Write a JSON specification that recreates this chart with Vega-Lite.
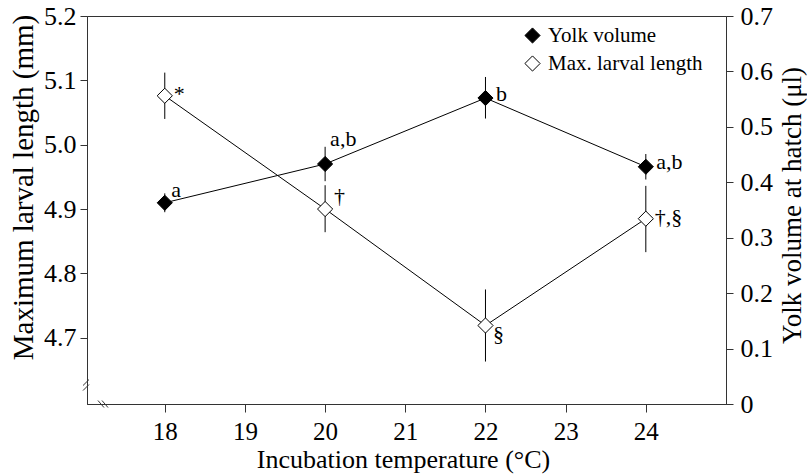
{
  "$schema": "https://vega.github.io/schema/vega-lite/v6.json",
  "width": 639,
  "height": 388,
  "autosize": {"type": "none"},
  "padding": {"left": 87, "top": 16, "right": 81, "bottom": 71},
  "background": "white",
  "config": {
    "font": "Liberation Serif",
    "view": {"stroke": "#333", "strokeWidth": 1},
    "axis": {
      "grid": false,
      "domainColor": "#333",
      "tickColor": "#333",
      "labelColor": "black",
      "titleColor": "black",
      "labelFont": "Liberation Serif",
      "titleFont": "Liberation Serif",
      "titleFontWeight": "normal",
      "labelFontSize": 25,
      "titleFontSize": 25
    },
    "legend": {
      "labelFont": "Liberation Serif",
      "labelFontSize": 21,
      "labelColor": "black"
    },
    "text": {"font": "Liberation Serif", "fontSize": 22, "color": "black", "align": "left", "baseline": "alphabetic"}
  },
  "datasets": {
    "length": [
      {"temp": 18, "series": "Max. larval length", "value": 5.076, "lo": 5.040, "hi": 5.112, "note": "*"},
      {"temp": 20, "series": "Max. larval length", "value": 4.900, "lo": 4.864, "hi": 4.937, "note": "†"},
      {"temp": 22, "series": "Max. larval length", "value": 4.719, "lo": 4.663, "hi": 4.775, "note": "§"},
      {"temp": 24, "series": "Max. larval length", "value": 4.885, "lo": 4.833, "hi": 4.936, "note": "†,§"}
    ],
    "yolk": [
      {"temp": 18, "series": "Yolk volume", "value": 0.363, "lo": 0.346, "hi": 0.380, "note": "a"},
      {"temp": 20, "series": "Yolk volume", "value": 0.433, "lo": 0.402, "hi": 0.464, "note": "a,b"},
      {"temp": 22, "series": "Yolk volume", "value": 0.552, "lo": 0.515, "hi": 0.590, "note": "b"},
      {"temp": 24, "series": "Yolk volume", "value": 0.428, "lo": 0.405, "hi": 0.451, "note": "a,b"}
    ],
    "breaks": [
      {"x": 16.98, "x2": 17.055, "y": 4.6257, "y2": 4.635},
      {"x": 16.98, "x2": 17.055, "y": 4.6179, "y2": 4.6273},
      {"x": 17.167, "x2": 17.242, "y": 4.6024, "y2": 4.5915},
      {"x": 17.217, "x2": 17.292, "y": 4.6024, "y2": 4.5915}
    ]
  },
  "layer": [
    {
      "data": {"name": "length"},
      "encoding": {
        "x": {
          "field": "temp",
          "type": "quantitative",
          "scale": {"domain": [17.03, 25], "nice": false, "zero": false},
          "axis": {
            "title": "Incubation temperature (°C)",
            "values": [18, 19, 20, 21, 22, 23, 24],
            "tickSize": 8,
            "labelPadding": 7,
            "titleFontSize": 26,
            "titleX": 316,
            "titleY": 63,
            "titleBaseline": "alphabetic"
          }
        },
        "y": {
          "field": "value",
          "type": "quantitative",
          "scale": {"domain": [4.597, 5.2], "nice": false, "zero": false},
          "axis": {
            "title": "Maximum larval length (mm)",
            "values": [4.7, 4.8, 4.9, 5.0, 5.1, 5.2],
            "format": ".1f",
            "tickSize": 7,
            "labelPadding": 4,
            "labelFontSize": 26,
            "titleFontSize": 29,
            "titleAngle": -90,
            "titleX": -64,
            "titleY": 171,
            "titleBaseline": "middle",
            "titleAlign": "center"
          }
        }
      },
      "layer": [
        {"mark": {"type": "line", "color": "black", "strokeWidth": 1}},
        {
          "mark": {"type": "rule", "color": "black", "strokeWidth": 1},
          "encoding": {"y": {"field": "lo", "type": "quantitative"}, "y2": {"field": "hi"}}
        },
        {
          "mark": {"type": "point", "shape": "diamond", "filled": true, "size": 230, "stroke": "black", "strokeWidth": 1, "opacity": 1},
          "encoding": {
            "fill": {
              "field": "series",
              "type": "nominal",
              "scale": {"domain": ["Yolk volume", "Max. larval length"], "range": ["black", "white"]},
              "legend": {
                "title": null,
                "orient": "none",
                "legendX": 435,
                "legendY": 9,
                "padding": 0,
                "symbolType": "diamond",
                "symbolSize": 230,
                "symbolStrokeColor": "black",
                "symbolStrokeWidth": 1,
                "rowPadding": 6,
                "labelOffset": 5
              }
            }
          }
        },
        {
          "transform": [{"filter": "datum.temp == 18 || datum.temp == 24"}],
          "mark": {"type": "text", "dx": 9, "dy": 5},
          "encoding": {"text": {"field": "note"}}
        },
        {
          "transform": [{"filter": "datum.temp == 20"}],
          "mark": {"type": "text", "dx": 9, "dy": -6},
          "encoding": {"text": {"field": "note"}}
        },
        {
          "transform": [{"filter": "datum.temp == 22"}],
          "mark": {"type": "text", "dx": 7.5, "dy": 16},
          "encoding": {"text": {"field": "note"}}
        },
        {
          "data": {"name": "breaks"},
          "mark": {"type": "rule", "color": "#333", "strokeWidth": 1},
          "encoding": {
            "x": {"field": "x", "type": "quantitative"},
            "x2": {"field": "x2"},
            "y": {"field": "y", "type": "quantitative"},
            "y2": {"field": "y2"}
          }
        }
      ]
    },
    {
      "data": {"name": "yolk"},
      "encoding": {
        "x": {
          "field": "temp",
          "type": "quantitative",
          "scale": {"domain": [17.03, 25], "nice": false, "zero": false},
          "axis": {
            "title": "Incubation temperature (°C)",
            "values": [18, 19, 20, 21, 22, 23, 24],
            "tickSize": 8,
            "labelPadding": 7,
            "titleFontSize": 26,
            "titleX": 316,
            "titleY": 63,
            "titleBaseline": "alphabetic"
          }
        },
        "y": {
          "field": "value",
          "type": "quantitative",
          "scale": {"domain": [0, 0.7], "nice": false, "zero": false},
          "axis": {
            "title": "Yolk volume at hatch (μl)",
            "values": [0, 0.1, 0.2, 0.3, 0.4, 0.5, 0.6, 0.7],
            "labelExpr": "datum.value == 0 ? '0' : format(datum.value, '.1f')",
            "tickSize": 7,
            "labelPadding": 7,
            "labelFontSize": 26,
            "titleFontSize": 27,
            "titleAngle": -90,
            "titleX": 66,
            "titleY": 189,
            "titleBaseline": "middle",
            "titleAlign": "center"
          }
        }
      },
      "layer": [
        {"mark": {"type": "line", "color": "black", "strokeWidth": 1}},
        {
          "mark": {"type": "rule", "color": "black", "strokeWidth": 1},
          "encoding": {"y": {"field": "lo", "type": "quantitative"}, "y2": {"field": "hi"}}
        },
        {
          "mark": {"type": "point", "shape": "diamond", "filled": true, "size": 230, "stroke": "black", "strokeWidth": 1, "opacity": 1},
          "encoding": {
            "fill": {"field": "series", "type": "nominal"}
          }
        },
        {
          "transform": [{"filter": "datum.temp == 18"}],
          "mark": {"type": "text", "dx": 6.5, "dy": -6},
          "encoding": {"text": {"field": "note"}}
        },
        {
          "transform": [{"filter": "datum.temp == 20"}],
          "mark": {"type": "text", "dx": 5, "dy": -18},
          "encoding": {"text": {"field": "note"}}
        },
        {
          "transform": [{"filter": "datum.temp == 22 || datum.temp == 24"}],
          "mark": {"type": "text", "dx": 10.5, "dy": 2.5},
          "encoding": {"text": {"field": "note"}}
        }
      ]
    }
  ],
  "resolve": {"scale": {"y": "independent"}, "axis": {"y": "independent"}}
}
